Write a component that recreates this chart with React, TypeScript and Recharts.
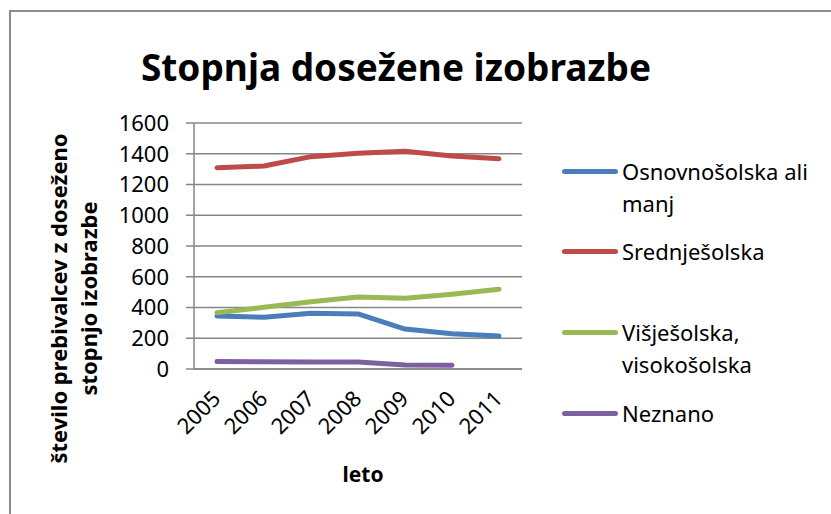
import React from "react";
import { LineChart, Line, XAxis, YAxis, CartesianGrid } from "recharts";

const YEARS = ["2005", "2006", "2007", "2008", "2009", "2010", "2011"];
const OSNOVNOSOLSKA = [345, 336, 362, 358, 260, 230, 215];
const SREDNJESOLSKA = [1309, 1320, 1381, 1403, 1416, 1385, 1368];
const VISJESOLSKA = [366, 401, 438, 468, 460, 486, 518];
const NEZNANO: (number | null)[] = [48, 47, 46, 45, 26, 24, null];
const Y_TICKS = [0, 200, 400, 600, 800, 1000, 1200, 1400, 1600];

const TITLE = "Stopnja dosežene izobrazbe";
const Y_TITLE = ["število prebivalcev z doseženo", "stopnjo izobrazbe"];
const X_TITLE = "leto";

const SERIES = [
  { key: "osnovno", name: "Osnovnošolska ali manj", color: "#4A7EBB", values: OSNOVNOSOLSKA },
  { key: "srednje", name: "Srednješolska", color: "#BE4B48", values: SREDNJESOLSKA },
  { key: "visje", name: "Višješolska, visokošolska", color: "#98B954", values: VISJESOLSKA },
  { key: "neznano", name: "Neznano", color: "#7D60A0", values: NEZNANO },
];

const data = YEARS.map((year, i) => {
  const row: Record<string, string | number | null> = { year };
  SERIES.forEach((s) => {
    row[s.key] = s.values[i];
  });
  return row;
});

const FONT = '"Noto Sans", "DejaVu Sans", sans-serif';
const GRID = "#868686";
const W = 831;
const H = 514;
// plot box: x 194..522, y 123..369
const Y_AXIS_W = 60;
const X_AXIS_H = 40;
const MARGIN = { top: 123, right: W - 522, bottom: H - 369 - X_AXIS_H, left: 194 - Y_AXIS_W };

// gap above each legend entry
const LEGEND_GAPS = [0, 16, 49, 17];

function YearTick(props: any) {
  const { x, y, payload } = props;
  const ax = x + 5;
  const ay = y + 31;
  return (
    <text
      x={ax}
      y={ay}
      transform={`rotate(-45, ${ax}, ${ay})`}
      textAnchor="end"
      fontSize={22}
      fontFamily={FONT}
      fill="#000"
    >
      {payload.value}
    </text>
  );
}

function ChartLegend() {
  return (
    <div style={{ position: "absolute", left: 560, top: 155, width: 265, fontFamily: FONT }}>
      {SERIES.map((s, i) => (
        <div key={s.key} style={{ display: "flex", alignItems: "flex-start", marginTop: LEGEND_GAPS[i] }}>
          <div
            style={{
              width: 56,
              height: 5,
              borderRadius: 3,
              background: s.color,
              marginTop: 13.5,
              marginLeft: 2,
              flex: "none",
            }}
          />
          <div style={{ width: 200, marginLeft: 4, fontSize: 22, lineHeight: "32px", color: "#000" }}>
            {s.name}
          </div>
        </div>
      ))}
    </div>
  );
}

export default function App() {
  return (
    <div style={{ position: "absolute", left: 0, top: 0, width: W, height: H, overflow: "hidden", background: "#fff" }}>
      <div
        style={{
          position: "absolute",
          left: 9,
          top: 10,
          width: 1000,
          height: 1000,
          borderLeft: "2px solid #8c8c8c",
          borderTop: "2px solid #8c8c8c",
        }}
      />
      <div style={{ position: "absolute", left: 0, top: 0 }}>
        <LineChart width={W} height={H} data={data} margin={MARGIN}>
          <CartesianGrid vertical={false} stroke={GRID} strokeWidth={1.5} />
          <XAxis
            dataKey="year"
            height={X_AXIS_H}
            padding={{ left: 23, right: 23 }}
            axisLine={{ stroke: GRID, strokeWidth: 1.5 }}
            tickLine={false}
            tickSize={0}
            tickMargin={0}
            interval={0}
            tick={<YearTick />}
          />
          <YAxis
            width={Y_AXIS_W}
            domain={[0, 1600]}
            ticks={Y_TICKS}
            interval={0}
            axisLine={{ stroke: GRID, strokeWidth: 1.5 }}
            tickLine={{ stroke: GRID, strokeWidth: 1.5 }}
            tickSize={8}
            tickMargin={17}
            tick={{ fontSize: 22, fill: "#000", fontFamily: FONT }}
          />
          {SERIES.map((s) => (
            <Line
              key={s.key}
              dataKey={s.key}
              name={s.name}
              stroke={s.color}
              strokeWidth={5}
              strokeLinecap="round"
              strokeLinejoin="round"
              dot={false}
              activeDot={false}
              type="linear"
              isAnimationActive={false}
            />
          ))}
        </LineChart>
      </div>
      <svg width={W} height={H} style={{ position: "absolute", left: 0, top: 0, pointerEvents: "none" }}>
        <text x={396} y={81} textAnchor="middle" fontSize={37} fontWeight="bold" fontFamily={FONT} fill="#000">
          {TITLE}
        </text>
        <text
          x={67}
          y={298.5}
          transform="rotate(-90, 67, 298.5)"
          textAnchor="middle"
          fontSize={22}
          fontWeight="bold"
          fontFamily={FONT}
          fill="#000"
        >
          {Y_TITLE[0]}
        </text>
        <text
          x={97}
          y={298.5}
          transform="rotate(-90, 97, 298.5)"
          textAnchor="middle"
          fontSize={22}
          fontWeight="bold"
          fontFamily={FONT}
          fill="#000"
        >
          {Y_TITLE[1]}
        </text>
        <text x={363} y={482} textAnchor="middle" fontSize={21} fontWeight="bold" fontFamily={FONT} fill="#000">
          {X_TITLE}
        </text>
      </svg>
      <ChartLegend />
    </div>
  );
}
